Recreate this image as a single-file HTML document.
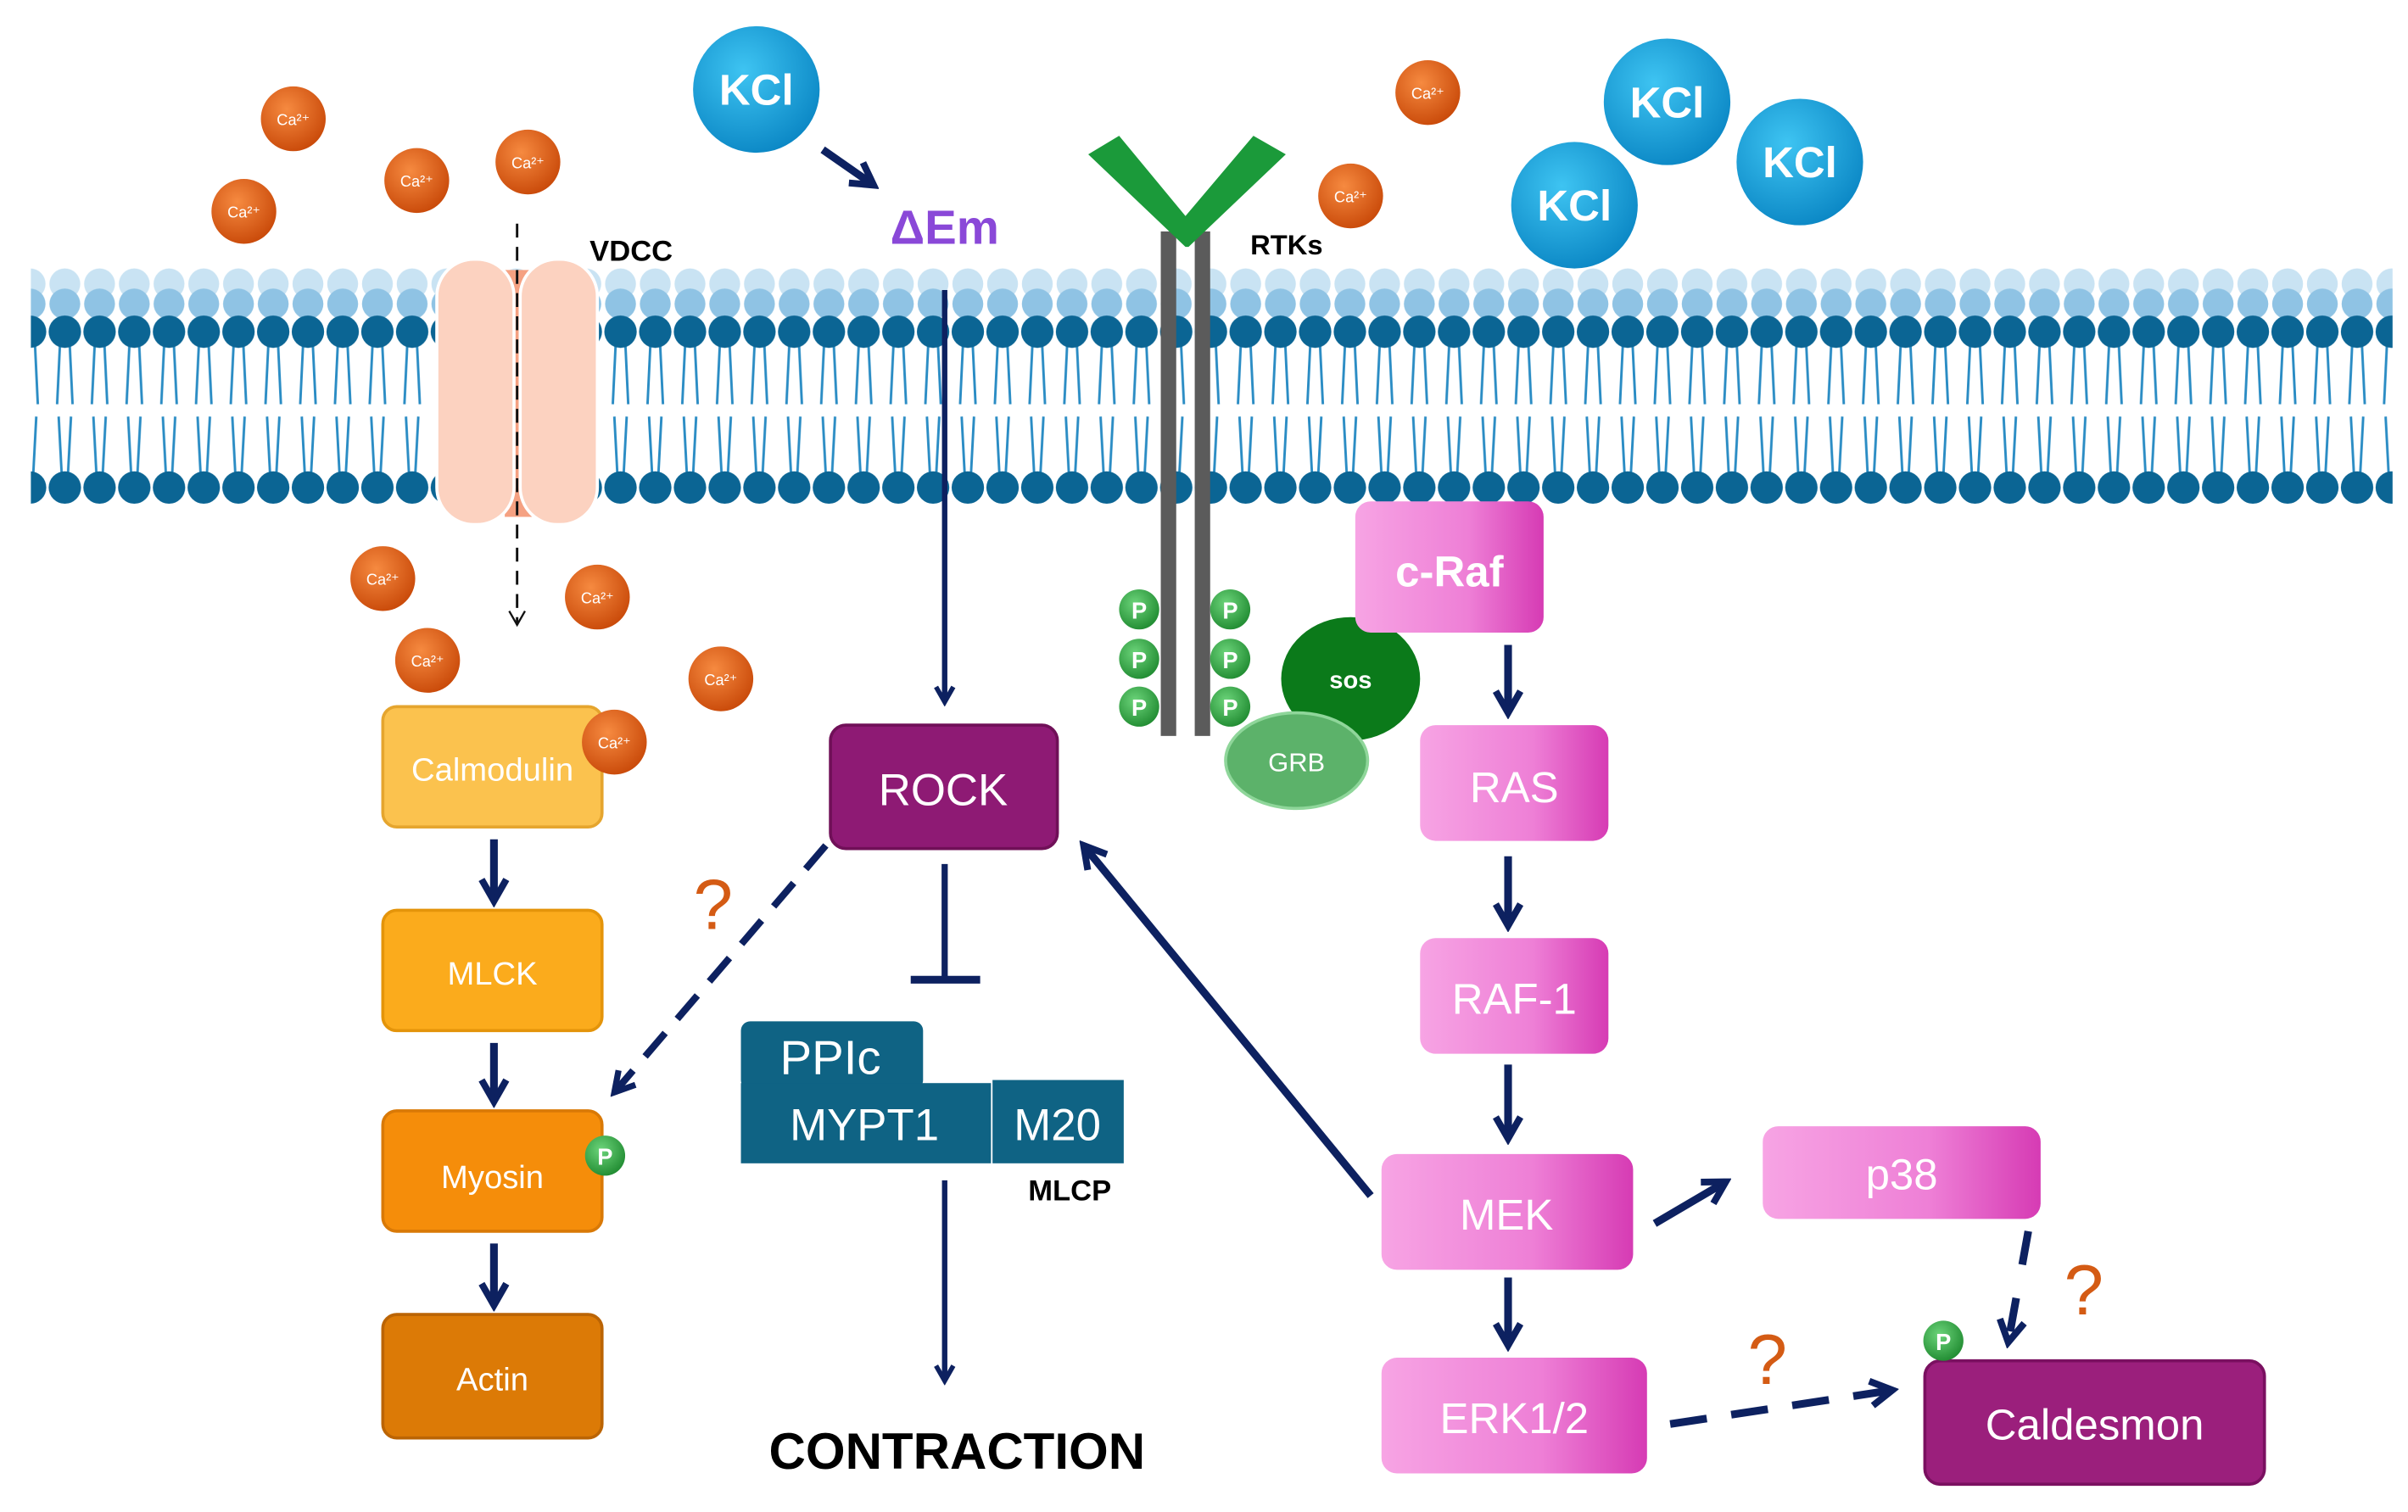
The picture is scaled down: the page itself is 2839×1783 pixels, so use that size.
<!DOCTYPE html>
<html><head><meta charset="utf-8"><style>
html,body{margin:0;padding:0;background:#fff}
svg{display:block}
text{font-family:"Liberation Sans",sans-serif}
</style></head><body>
<svg width="2839" height="1783" viewBox="0 0 1560 980" preserveAspectRatio="none" xmlns="http://www.w3.org/2000/svg">
<defs>
<pattern id="mem" x="31" y="170" width="22.5" height="165" patternUnits="userSpaceOnUse">
 <circle cx="11" cy="14" r="10" fill="#c9e3f3"/>
 <circle cx="11" cy="27" r="10" fill="#8fc3e4"/>
 <g stroke="#2a8cc4" stroke-width="1.6" fill="none">
  <path d="M8 50 L6 92 M14 50 L16 92"/>
  <path d="M7 100 L9 138 M15 100 L13 138"/>
 </g>
 <circle cx="11" cy="45" r="10.5" fill="#0b6594"/>
 <circle cx="11" cy="146" r="10.5" fill="#0b6594"/>
</pattern>
<linearGradient id="pink" x1="0" x2="1"><stop offset="0" stop-color="#f7a4e4"/><stop offset=".6" stop-color="#ee7fd6"/><stop offset="1" stop-color="#d63bb4"/></linearGradient>
<radialGradient id="ca" cx=".4" cy=".35" r=".7"><stop offset="0" stop-color="#f68a40"/><stop offset="1" stop-color="#c84808"/></radialGradient>
<radialGradient id="kcl" cx=".4" cy=".35" r=".7"><stop offset="0" stop-color="#3ec4f2"/><stop offset="1" stop-color="#0a86c4"/></radialGradient>
<radialGradient id="pg" cx=".4" cy=".35" r=".7"><stop offset="0" stop-color="#6cd47a"/><stop offset="1" stop-color="#1f8a30"/></radialGradient>
<marker id="ah" viewBox="0 0 10 10" refX="8" refY="5" markerWidth="4" markerHeight="4" orient="auto"><path d="M1 1 L8 5 L1 9" fill="none" stroke="#0d2160" stroke-width="2.2"/></marker>
<marker id="ahs" viewBox="0 0 10 10" refX="8" refY="5" markerWidth="8" markerHeight="8" orient="auto"><path d="M1 1 L8 5 L1 9" fill="none" stroke="#111" stroke-width="1"/></marker>
</defs>

<!-- membrane -->
<rect x="20" y="170" width="1530" height="165" fill="url(#mem)"/>

<!-- VDCC channel -->
<rect x="327" y="175" width="20" height="160" fill="#f5a182"/>
<rect x="283" y="168" width="50" height="172" rx="24" fill="#fcd2c0" stroke="#fff" stroke-width="2"/>
<rect x="337" y="168" width="50" height="172" rx="24" fill="#fcd2c0" stroke="#fff" stroke-width="2"/>
<line x1="335" y1="145" x2="335" y2="405" stroke="#111" stroke-width="1.6" stroke-dasharray="9,6" marker-end="url(#ahs)"/>
<text x="382" y="169" font-size="19" font-weight="bold">VDCC</text>

<!-- RTK -->
<rect x="752" y="150" width="10" height="327" fill="#5b5b5b"/>
<rect x="774" y="150" width="10" height="327" fill="#5b5b5b"/>
<path d="M705 100 L725 88 L768 140 L812 88 L833 100 L770 160 L768 160 Z" fill="#1b9a3a"/>
<text x="810" y="165" font-size="18" font-weight="bold">RTKs</text>
<g font-size="15" font-weight="bold" fill="#fff" text-anchor="middle">
<circle cx="738" cy="395" r="13" fill="url(#pg)"/><text x="738" y="401">P</text>
<circle cx="738" cy="427" r="13" fill="url(#pg)"/><text x="738" y="433">P</text>
<circle cx="738" cy="458" r="13" fill="url(#pg)"/><text x="738" y="464">P</text>
<circle cx="797" cy="395" r="13" fill="url(#pg)"/><text x="797" y="401">P</text>
<circle cx="797" cy="427" r="13" fill="url(#pg)"/><text x="797" y="433">P</text>
<circle cx="797" cy="458" r="13" fill="url(#pg)"/><text x="797" y="464">P</text>
</g>
<ellipse cx="875" cy="440" rx="45" ry="40" fill="#0b7a1a"/>
<text x="875" y="446" font-size="16" font-weight="bold" fill="#fff" text-anchor="middle">sos</text>
<ellipse cx="840" cy="493" rx="46" ry="31" fill="#5cb26a" stroke="#8fd69a" stroke-width="2"/>
<text x="840" y="500" font-size="17" fill="#fff" text-anchor="middle">GRB</text>

<!-- Ca balls -->
<g font-size="10" fill="#fff" text-anchor="middle">
<circle cx="190" cy="77" r="21" fill="url(#ca)"/><text x="190" y="81">Ca²⁺</text>
<circle cx="270" cy="117" r="21" fill="url(#ca)"/><text x="270" y="121">Ca²⁺</text>
<circle cx="342" cy="105" r="21" fill="url(#ca)"/><text x="342" y="109">Ca²⁺</text>
<circle cx="158" cy="137" r="21" fill="url(#ca)"/><text x="158" y="141">Ca²⁺</text>
<circle cx="925" cy="60" r="21" fill="url(#ca)"/><text x="925" y="64">Ca²⁺</text>
<circle cx="875" cy="127" r="21" fill="url(#ca)"/><text x="875" y="131">Ca²⁺</text>
<circle cx="248" cy="375" r="21" fill="url(#ca)"/><text x="248" y="379">Ca²⁺</text>
<circle cx="387" cy="387" r="21" fill="url(#ca)"/><text x="387" y="391">Ca²⁺</text>
<circle cx="277" cy="428" r="21" fill="url(#ca)"/><text x="277" y="432">Ca²⁺</text>
<circle cx="467" cy="440" r="21" fill="url(#ca)"/><text x="467" y="444">Ca²⁺</text>
</g>

<!-- KCl -->
<g font-size="28" font-weight="bold" fill="#fff" text-anchor="middle">
<circle cx="490" cy="58" r="41" fill="url(#kcl)"/><text x="490" y="68">KCl</text>
<circle cx="1080" cy="66" r="41" fill="url(#kcl)"/><text x="1080" y="76">KCl</text>
<circle cx="1166" cy="105" r="41" fill="url(#kcl)"/><text x="1166" y="115">KCl</text>
<circle cx="1020" cy="133" r="41" fill="url(#kcl)"/><text x="1020" y="143">KCl</text>
</g>
<line x1="533" y1="97" x2="566" y2="120" stroke="#0d2160" stroke-width="5" marker-end="url(#ah)"/>
<text x="612" y="158" font-size="31" font-weight="bold" fill="#8a48d8" text-anchor="middle">ΔEm</text>
<line x1="612" y1="188" x2="612" y2="455" stroke="#0d2160" stroke-width="3.5" marker-end="url(#ah)"/>

<!-- left column -->
<g font-size="21" fill="#fff" text-anchor="middle">
<rect x="248" y="458" width="142" height="78" rx="9" fill="#fbc24e" stroke="#e5a52e" stroke-width="2"/><text x="319" y="506">Calmodulin</text>
<rect x="248" y="590" width="142" height="78" rx="9" fill="#fbab1c" stroke="#e4940a" stroke-width="2"/><text x="319" y="638">MLCK</text>
<rect x="248" y="720" width="142" height="78" rx="9" fill="#f58d0a" stroke="#d97906" stroke-width="2"/><text x="319" y="770">Myosin</text>
<rect x="248" y="852" width="142" height="80" rx="9" fill="#dc7a06" stroke="#bb6404" stroke-width="2"/><text x="319" y="901">Actin</text>
</g>
<g font-size="10" fill="#fff" text-anchor="middle"><circle cx="398" cy="481" r="21" fill="url(#ca)"/><text x="398" y="485">Ca²⁺</text></g>
<circle cx="392" cy="749" r="13" fill="url(#pg)"/><text x="392" y="755" font-size="15" font-weight="bold" fill="#fff" text-anchor="middle">P</text>
<g stroke="#0d2160" stroke-width="5" marker-end="url(#ah)">
<line x1="320" y1="544" x2="320" y2="584"/>
<line x1="320" y1="676" x2="320" y2="714"/>
<line x1="320" y1="806" x2="320" y2="846"/>
</g>
<line x1="535" y1="548" x2="398" y2="708" stroke="#0d2160" stroke-width="4.5" stroke-dasharray="20,12" marker-end="url(#ah)"/>
<text x="462" y="602" font-size="46" fill="#d45b14" text-anchor="middle">?</text>

<!-- ROCK / MLCP -->
<rect x="538" y="470" width="147" height="80" rx="10" fill="#8e1a74" stroke="#701058" stroke-width="2"/>
<text x="611" y="522" font-size="29" fill="#fff" text-anchor="middle">ROCK</text>
<line x1="612" y1="560" x2="612" y2="635" stroke="#0d2160" stroke-width="4"/>
<line x1="590" y1="635" x2="635" y2="635" stroke="#0d2160" stroke-width="5"/>
<rect x="480" y="662" width="118" height="44" rx="6" fill="#0f6384"/>
<rect x="480" y="702" width="162" height="52" fill="#0f6384"/>
<rect x="643" y="700" width="85" height="54" fill="#0f6384"/>
<text x="538" y="696" font-size="31" fill="#fff" text-anchor="middle">PPIc</text>
<text x="560" y="739" font-size="29" fill="#fff" text-anchor="middle">MYPT1</text>
<text x="685" y="739" font-size="29" fill="#fff" text-anchor="middle">M20</text>
<text x="693" y="778" font-size="19" font-weight="bold" text-anchor="middle">MLCP</text>
<line x1="612" y1="765" x2="612" y2="895" stroke="#0d2160" stroke-width="3.5" marker-end="url(#ah)"/>
<text x="620" y="952" font-size="33" font-weight="bold" text-anchor="middle">CONTRACTION</text>

<!-- right column -->
<g font-size="28" fill="#fff" text-anchor="middle">
<rect x="878" y="325" width="122" height="85" rx="10" fill="url(#pink)"/><text x="939" y="380" font-weight="bold">c-Raf</text>
<rect x="920" y="470" width="122" height="75" rx="10" fill="url(#pink)"/><text x="981" y="520">RAS</text>
<rect x="920" y="608" width="122" height="75" rx="10" fill="url(#pink)"/><text x="981" y="657">RAF-1</text>
<rect x="895" y="748" width="163" height="75" rx="10" fill="url(#pink)"/><text x="976" y="797">MEK</text>
<rect x="895" y="880" width="172" height="75" rx="10" fill="url(#pink)"/><text x="981" y="929">ERK1/2</text>
<rect x="1142" y="730" width="180" height="60" rx="10" fill="url(#pink)"/><text x="1232" y="771">p38</text>
<rect x="1247" y="882" width="220" height="80" rx="10" fill="#9b1f7c" stroke="#7a1060" stroke-width="2"/><text x="1357" y="933">Caldesmon</text>
</g>
<circle cx="1259" cy="869" r="13" fill="url(#pg)"/><text x="1259" y="875" font-size="15" font-weight="bold" fill="#fff" text-anchor="middle">P</text>
<g stroke="#0d2160" stroke-width="5" marker-end="url(#ah)">
<line x1="977" y1="418" x2="977" y2="462"/>
<line x1="977" y1="555" x2="977" y2="600"/>
<line x1="977" y1="690" x2="977" y2="738"/>
<line x1="977" y1="828" x2="977" y2="872"/>
<line x1="1072" y1="793" x2="1118" y2="766"/>
<line x1="888" y1="775" x2="702" y2="548"/>
</g>
<line x1="1082" y1="923" x2="1226" y2="901" stroke="#0d2160" stroke-width="5" stroke-dasharray="24,16" marker-end="url(#ah)"/>
<line x1="1314" y1="798" x2="1301" y2="870" stroke="#0d2160" stroke-width="5" stroke-dasharray="22,22" marker-end="url(#ah)"/>
<text x="1145" y="897" font-size="46" fill="#d45b14" text-anchor="middle">?</text>
<text x="1350" y="852" font-size="46" fill="#d45b14" text-anchor="middle">?</text>
</svg>
</body></html>
